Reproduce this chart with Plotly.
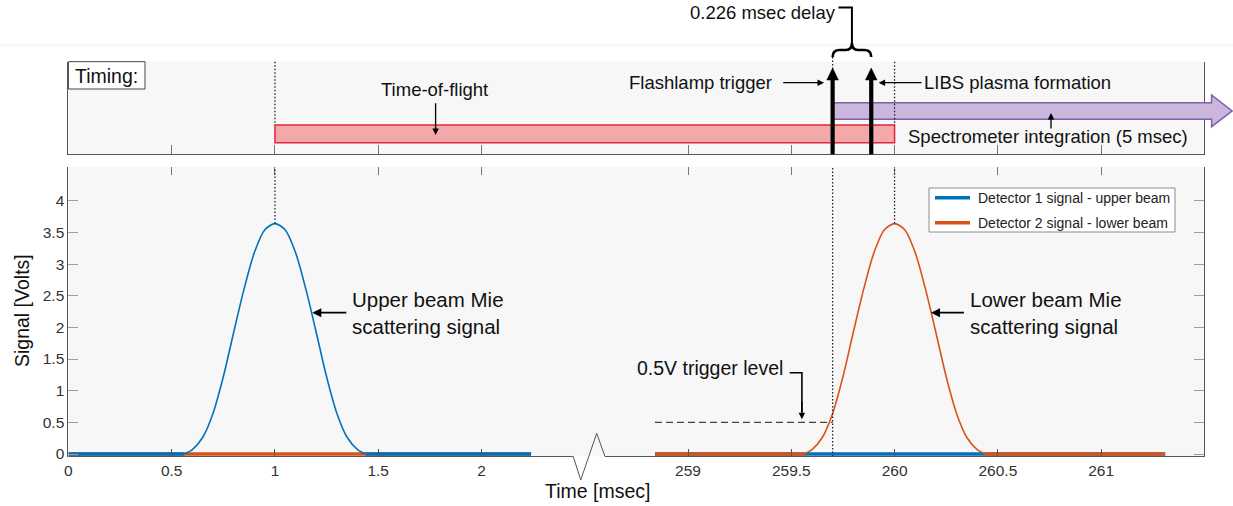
import plotly.graph_objects as go

W, H = 1233, 506

# ---------------- data ----------------
BREAK_OFFSET = 256.0  # msec cut out by the axis break

det1_span = [0.00, 2.24]
det1_pulse_t = [0.56, 0.60, 0.65, 0.70, 0.75, 0.80, 0.85, 0.90, 0.95, 1.00,
                1.05, 1.10, 1.15, 1.20, 1.25, 1.30, 1.35, 1.40, 1.44]
det1_pulse_v = [0.00, 0.07, 0.26, 0.64, 1.22, 1.92, 2.60, 3.18, 3.54, 3.64,
                3.54, 3.18, 2.60, 1.92, 1.22, 0.64, 0.26, 0.07, 0.00]

det2_span = [258.84, 261.31]
det2_pulse_t = [259.56, 259.60, 259.65, 259.70, 259.75, 259.80, 259.85, 259.90, 259.95, 260.00,
                260.05, 260.10, 260.15, 260.20, 260.25, 260.30, 260.35, 260.40, 260.44]
det2_pulse_v = [0.00, 0.07, 0.26, 0.64, 1.22, 1.92, 2.60, 3.18, 3.54, 3.64,
                3.54, 3.18, 2.60, 1.92, 1.22, 0.64, 0.26, 0.07, 0.00]

series_names = ["Detector 1 signal - upper beam", "Detector 2 signal - lower beam"]

xtick_times = [0, 0.5, 1, 1.5, 2, 259, 259.5, 260, 260.5, 261]
xtick_labels = ["0", "0.5", "1", "1.5", "2", "259", "259.5", "260", "260.5", "261"]
ytick_vals = [0, 0.5, 1, 1.5, 2, 2.5, 3, 3.5, 4]
ytick_labels = ["0", "0.5", "1", "1.5", "2", "2.5", "3", "3.5", "4"]

tof_start, tof_end = 1.0, 260.0        # time-of-flight bar
flash_t = 259.7                         # flashlamp trigger
libs_t = 259.887                        # LIBS plasma formation (drawn position)
spec_start = 259.7                      # spectrometer integration start
trigger_level = 0.5
trigger_from = 258.84

BLUE = "#0072BD"
ORANGE = "#D95319"
FONT = "Liberation Sans, Arial, sans-serif"

# ---------------- geometry helpers ----------------
XL, XR = 68.4, 1204.4           # plot area in pixels
XMAX = 5.5
B_TOP, B_BOT = 167.3, 456.5     # bottom panel
T_TOP, T_BOT = 61.7, 154.3      # top panel
Y0PX, VPX = 454.0, 63.3         # 0 V position and px per volt


def tp(t):
    return t if t < 100 else t - BREAK_OFFSET


def xpx(t):
    return XL + tp(t) / XMAX * (XR - XL)


def fx(p):
    return p / W


def fy(p):
    return 1 - p / H


def P(x, y):
    return f"{fx(x):.5f},{fy(y):.5f}"


def path(points, close=False):
    s = "M" + " L".join(P(x, y) for x, y in points)
    return s + (" Z" if close else "")


fig = go.Figure()

# ---------------- traces ----------------
# segment 1: orange underneath, blue on top
fig.add_trace(go.Scatter(x=[tp(t) for t in det1_span], y=[0, 0], mode="lines",
                         line=dict(color=ORANGE, width=3.5), hoverinfo="skip"))
fig.add_trace(go.Scatter(x=[tp(det1_span[0]), tp(det1_pulse_t[0]), None, tp(det1_pulse_t[-1]), tp(det1_span[1])],
                         y=[0, 0, None, 0, 0], mode="lines", line=dict(color=BLUE, width=3.5),
                         name=series_names[0]))
fig.add_trace(go.Scatter(x=[tp(t) for t in det1_pulse_t], y=det1_pulse_v, mode="lines",
                         line=dict(color=BLUE, width=1.6, shape="spline", smoothing=0.8),
                         name=series_names[0]))
# segment 2: blue underneath, orange on top
fig.add_trace(go.Scatter(x=[tp(t) for t in det2_span], y=[0, 0], mode="lines",
                         line=dict(color=BLUE, width=3.5), name=series_names[0]))
fig.add_trace(go.Scatter(x=[tp(det2_span[0]), tp(det2_pulse_t[0]), None, tp(det2_pulse_t[-1]), tp(det2_span[1])],
                         y=[0, 0, None, 0, 0], mode="lines", line=dict(color=ORANGE, width=3.5),
                         name=series_names[1]))
fig.add_trace(go.Scatter(x=[tp(t) for t in det2_pulse_t], y=det2_pulse_v, mode="lines",
                         line=dict(color=ORANGE, width=1.6, shape="spline", smoothing=0.8),
                         name=series_names[1]))
# helper traces so the extra axes are drawn
fig.add_trace(go.Scatter(x=[0], y=[0], xaxis="x3", yaxis="y", mode="markers",
                         marker=dict(opacity=0), hoverinfo="skip"))
fig.add_trace(go.Scatter(x=[0], y=[0], xaxis="x2", yaxis="y2", mode="markers",
                         marker=dict(opacity=0), hoverinfo="skip"))

xt = [tp(t) for t in xtick_times]
ymin = -(B_BOT - Y0PX) / VPX
ymax = (Y0PX - B_TOP) / VPX
xdom = [fx(XL), fx(XR)]
AX = "#555555"
TICKFONT = dict(family=FONT, size=15.5, color="#333333")

fig.update_layout(
    width=W, height=H, margin=dict(l=0, r=0, t=0, b=0),
    paper_bgcolor="white", plot_bgcolor="#f7f7f7",
    font=dict(family=FONT, color="#111111"),
    showlegend=False,
    xaxis=dict(domain=xdom, range=[0, XMAX], anchor="y", showline=False, showgrid=False,
               zeroline=False, tickmode="array", tickvals=xt, ticktext=xtick_labels,
               ticks="inside", ticklen=8, tickcolor=AX, tickfont=TICKFONT,
               automargin=False, ticklabelstandoff=3),
    xaxis3=dict(domain=xdom, range=[0, XMAX], overlaying="x", anchor="y", side="top",
                showline=False, showgrid=False, zeroline=False, tickmode="array", tickvals=xt,
                ticks="inside", ticklen=8, tickcolor="#777777", showticklabels=False, automargin=False),
    yaxis=dict(domain=[fy(B_BOT), fy(B_TOP)], range=[ymin, ymax], anchor="x",
               showline=True, linecolor=AX, linewidth=1, mirror="ticks", showgrid=False,
               zeroline=False, tickmode="array", tickvals=ytick_vals, ticktext=ytick_labels,
               ticks="inside", ticklen=10, tickcolor="#a0a0a0", tickfont=TICKFONT,
               automargin=False),
    xaxis2=dict(domain=xdom, range=[0, XMAX], anchor="y2", showline=True, linecolor=AX,
                linewidth=1, showgrid=False, zeroline=False, tickmode="array", tickvals=xt,
                ticks="inside", ticklen=9, tickcolor="#777777", showticklabels=False,
                automargin=False),
    yaxis2=dict(domain=[fy(T_BOT), fy(T_TOP)], range=[0, 1], anchor="x2", showline=True,
                linecolor=AX, linewidth=1, mirror=True, showgrid=False, zeroline=False,
                showticklabels=False, ticks="", automargin=False),
)

shapes = []
DOT = dict(color="#222222", width=1.3, dash="1.5px,2px")

# faint top border line of the figure image
shapes.append(dict(type="line", xref="paper", yref="paper", x0=0, x1=1, y0=fy(45), y1=fy(45),
                   line=dict(color="#eeeeee", width=1)))

# ---- bottom panel guides (data coords) ----
pk1 = max(det1_pulse_v)
pk2 = max(det2_pulse_v)
shapes.append(dict(type="line", xref="x", yref="y", x0=tp(1.0), x1=tp(1.0), y0=pk1, y1=ymax, line=DOT))
shapes.append(dict(type="line", xref="x", yref="y", x0=tp(260.0), x1=tp(260.0), y0=pk2, y1=ymax, line=DOT))
shapes.append(dict(type="line", xref="x", yref="y", x0=tp(flash_t), x1=tp(flash_t), y0=ymin, y1=ymax, line=DOT))
shapes.append(dict(type="line", xref="x", yref="y", x0=tp(trigger_from), x1=tp(flash_t),
                   y0=trigger_level, y1=trigger_level, line=dict(color="#444444", width=1.3, dash="7px,4px")))

# broken x axis line with zig-zag
shapes.append(dict(type="path", xref="paper", yref="paper",
                   path=path([(XL, B_BOT), (573.3, B_BOT), (580.7, 480), (596.7, 433.3),
                              (605, B_BOT), (XR, B_BOT)]),
                   line=dict(color="#555555", width=1)))

# ---- legend (drawn box) ----
LG_L, LG_R, LG_T, LG_B = 929, 1175, 188, 232
shapes.append(dict(type="rect", xref="paper", yref="paper", x0=fx(LG_L), x1=fx(LG_R),
                   y0=fy(LG_B), y1=fy(LG_T), fillcolor="white", line=dict(color="#8c8c8c", width=1)))
legend_rows = [(197.7, BLUE), (222.7, ORANGE)]
for (ry, col) in legend_rows:
    shapes.append(dict(type="line", xref="paper", yref="paper", x0=fx(935), x1=fx(970),
                       y0=fy(ry), y1=fy(ry), line=dict(color=col, width=3.5)))

# ---- top panel ----
# Timing box
shapes.append(dict(type="rect", xref="paper", yref="paper", x0=fx(XL), x1=fx(145), y0=fy(89), y1=fy(T_TOP),
                   fillcolor="white", line=dict(color="#444444", width=1)))
# time-of-flight bar
shapes.append(dict(type="rect", xref="paper", yref="paper", x0=fx(xpx(tof_start)), x1=fx(xpx(tof_end)),
                   y0=fy(142.7), y1=fy(125), fillcolor="#f3a9a9", line=dict(color="#e0283a", width=1.5)))
# spectrometer integration arrow
xs = xpx(spec_start)
shapes.append(dict(type="path", xref="paper", yref="paper",
                   path=path([(xs, 102.7), (1211.6, 102.7), (1211.6, 95), (1232, 111),
                              (1211.6, 126.7), (1211.6, 119.3), (xs, 119.3)], close=True),
                   fillcolor="#cbb7dd", line=dict(color="#7f5fa8", width=1.5)))
# dotted guides in the timing panel
shapes.append(dict(type="line", xref="paper", yref="paper", x0=fx(xpx(1.0)), x1=fx(xpx(1.0)),
                   y0=fy(T_TOP), y1=fy(125), line=DOT))
shapes.append(dict(type="line", xref="paper", yref="paper", x0=fx(xpx(260.0)), x1=fx(xpx(260.0)),
                   y0=fy(T_TOP), y1=fy(125), line=DOT))
shapes.append(dict(type="line", xref="paper", yref="paper", x0=fx(xpx(flash_t)), x1=fx(xpx(flash_t)),
                   y0=fy(57), y1=fy(70), line=DOT))
# black trigger arrows
for t in (flash_t, libs_t):
    xc = xpx(t)
    shapes.append(dict(type="rect", xref="paper", yref="paper", x0=fx(xc - 2.1), x1=fx(xc + 2.1),
                       y0=fy(T_BOT), y1=fy(79), fillcolor="black", line=dict(width=0)))
    shapes.append(dict(type="path", xref="paper", yref="paper",
                       path=path([(xc - 5.8, 80), (xc + 5.8, 80), (xc, 68)], close=True),
                       fillcolor="black", line=dict(color="black", width=0.5)))
# curly brace between the two arrows
xa, xb = xpx(flash_t), xpx(libs_t)
xm = (xa + xb) / 2
brace = ("M" + P(xa, 57) + " Q" + P(xa, 50) + " " + P(xa + 7, 50) + " L" + P(xm - 6, 50) +
         " Q" + P(xm, 50) + " " + P(xm, 43) + " Q" + P(xm, 50) + " " + P(xm + 6, 50) +
         " L" + P(xb - 7, 50) + " Q" + P(xb, 50) + " " + P(xb, 57))
shapes.append(dict(type="path", xref="paper", yref="paper", path=brace,
                   line=dict(color="black", width=2.6)))
shapes.append(dict(type="path", xref="paper", yref="paper",
                   path=path([(838.5, 7.5), (xm, 7.5), (xm, 43)]),
                   line=dict(color="black", width=2)))
# trigger level bracket
shapes.append(dict(type="path", xref="paper", yref="paper",
                   path=path([(789.7, 372.7), (801.9, 372.7), (801.9, 412)]),
                   line=dict(color="black", width=1.6)))

fig.update_layout(shapes=shapes)

# ---------------- annotations ----------------
ann = []


def text(s, x, y, size, xanchor="center", align="center", angle=0, color="#111111"):
    ann.append(dict(text=s, x=fx(x), y=fy(y), xref="paper", yref="paper", showarrow=False,
                    xanchor=xanchor, yanchor="middle", align=align, textangle=angle,
                    font=dict(family=FONT, size=size, color=color)))


def arrow(tipx, tipy, tailx, taily, width=1.3, size=1.0):
    ann.append(dict(text="", x=fx(tipx), y=fy(tipy), xref="paper", yref="paper",
                    ax=tailx - tipx, ay=taily - tipy, axref="pixel", ayref="pixel",
                    showarrow=True, arrowhead=2, arrowsize=size, arrowwidth=width,
                    arrowcolor="black", standoff=0, startstandoff=0))


text("Timing:", 106.7, 75.5, 19.5)
text("0.226 msec delay", 762.8, 12.5, 18.5)
text("Time-of-flight", 434.8, 90, 18.5)
text("Flashlamp trigger", 700.8, 82.7, 18.5)
text("LIBS plasma formation", 1017.9, 82.7, 18.5)
text("Spectrometer integration (5 msec)", 1048.1, 136.7, 18.5)
text("Upper beam Mie<br>scattering signal", 349.5, 313, 20.5, xanchor="left", align="left")
text("Lower beam Mie<br>scattering signal", 968.3, 313, 20.5, xanchor="left", align="left")
text("0.5V trigger level", 709.6, 368.3, 19.5)
text("Time [msec]", 597, 491, 19.5)
text("Signal [Volts]", 22, 311, 19.5, angle=-90)
for (ry, col), name in zip(legend_rows, series_names):
    text(name, 975.5, ry, 14, xanchor="left", align="left", color="#222222")

arrow(435.6, 135, 435.6, 101.7)
arrow(1051, 113, 1051, 130)
arrow(824, 82.7, 781.7, 82.7)
arrow(878.6, 82.7, 923, 82.7)
arrow(312.3, 312.7, 347.8, 312.7, width=1.8, size=1.0)
arrow(931, 312.7, 965.4, 312.7, width=1.8, size=1.0)
arrow(801.9, 419.3, 801.9, 400)

fig.update_layout(annotations=ann)

fig.write_html("out.html")
